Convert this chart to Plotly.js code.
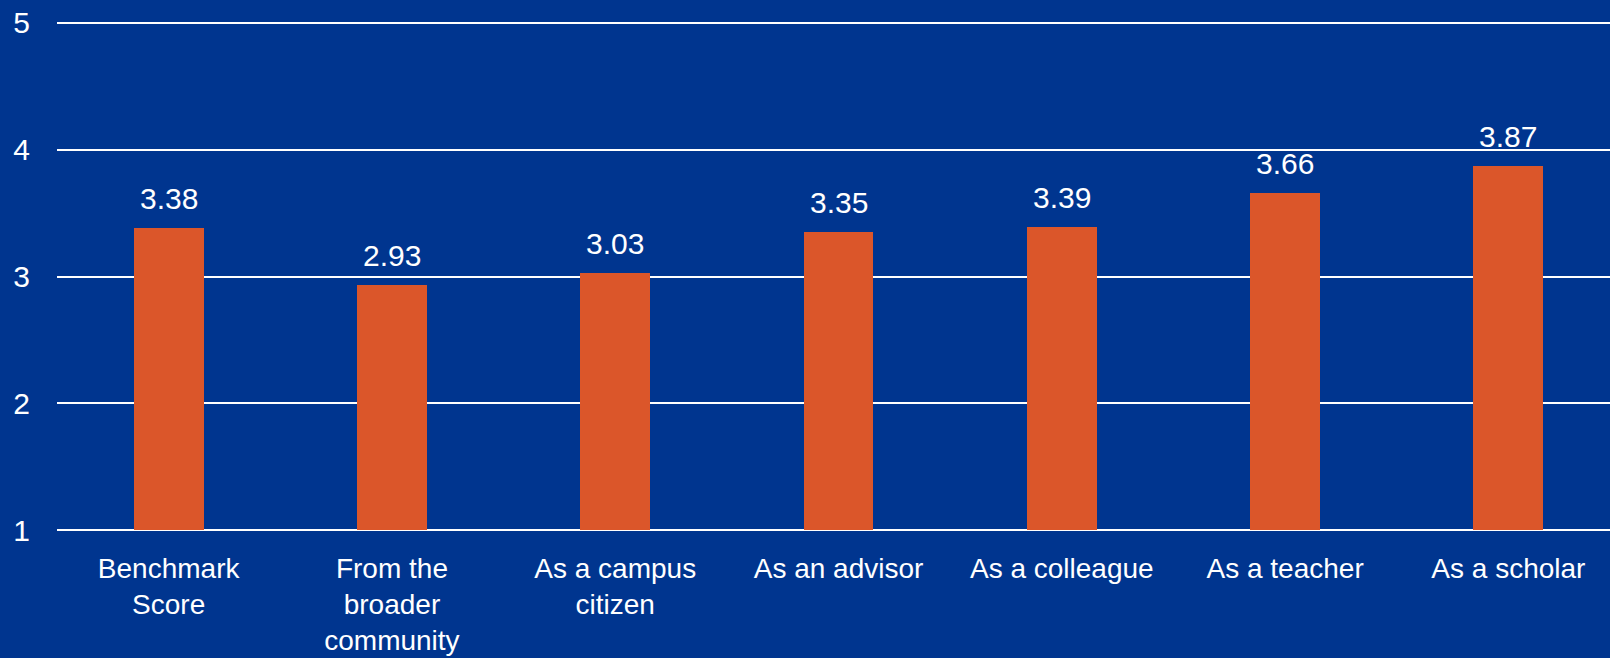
<!DOCTYPE html>
<html>
<head>
<meta charset="utf-8">
<script src="https://cdn.plot.ly/plotly-3.0.1.min.js"></script>
<style>
html,body{margin:0;padding:0;background:#00358F;}
#chart{width:1610px;height:658px;}
</style>
</head>
<body>
<div id="chart"></div>
<script>
const categories = ["Benchmark<br>Score", "From the<br>broader<br>community", "As a campus<br>citizen", "As an advisor", "As a colleague", "As a teacher", "As a scholar"];
const scores = [3.38, 2.93, 3.03, 3.35, 3.39, 3.66, 3.87];
const yTicks = [1, 2, 3, 4, 5];

const bg = "#00358F";
const barColor = "#DB562A";
const fontFamily = "Liberation Sans, Arial, sans-serif";

const idx = categories.map((c, i) => i);

const trace = {
  type: "bar",
  x: idx,
  y: scores.map(v => v - 1),
  base: 1,
  width: 0.313,
  marker: {color: barColor, line: {width: 0}},
  hoverinfo: "none"
};

const annotations = scores.map((v, i) => ({
  x: i, y: v, xref: "x", yref: "y",
  text: v.toFixed(2),
  showarrow: false,
  yanchor: "bottom",
  yshift: 11,
  font: {family: fontFamily, size: 30, color: "#ffffff"}
}));

const layout = {
  width: 1610, height: 658,
  paper_bgcolor: bg, plot_bgcolor: bg,
  margin: {l: 57, r: 0, t: 20, b: 125, pad: 0},
  showlegend: false,
  bargap: 0,
  font: {family: fontFamily, size: 30, color: "#ffffff"},
  xaxis: {
    range: [-0.5, 6.455],
    tickvals: idx,
    ticktext: categories,
    showgrid: false, zeroline: false, showline: false,
    ticks: "outside", ticklen: 10, tickcolor: "rgba(0,0,0,0)",
    tickfont: {family: fontFamily, size: 28, color: "#ffffff"},
    fixedrange: true
  },
  yaxis: {
    range: [0.98, 5.02],
    tickvals: yTicks,
    ticktext: yTicks.map(String),
    showgrid: true, gridcolor: "#ffffff", gridwidth: 2,
    zeroline: false, showline: false,
    ticks: "outside", ticklen: 20, tickcolor: "rgba(0,0,0,0)",
    tickfont: {family: fontFamily, size: 30, color: "#ffffff"},
    fixedrange: true
  },
  annotations: annotations
};

Plotly.newPlot("chart", [trace], layout, {displayModeBar: false, staticPlot: true});
</script>
</body>
</html>
